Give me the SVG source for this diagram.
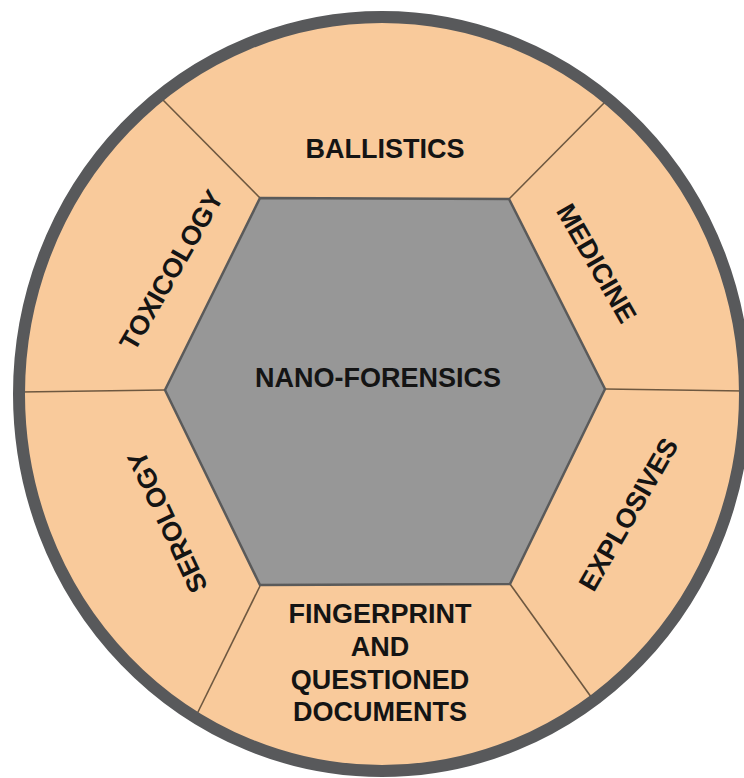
<svg xmlns="http://www.w3.org/2000/svg" width="744" height="778" viewBox="0 0 744 778">
<style>
.lbl{font-family:"Liberation Sans",Arial,sans-serif;font-weight:bold;font-size:27px;fill:#141414;text-anchor:middle}
.div{stroke:#6e5840;stroke-width:1.6;fill:none}
</style>
<rect width="744" height="778" fill="#ffffff"/>
<g id="ring">
<ellipse cx="382" cy="394" rx="363" ry="377" fill="#f9ca9b"/>
</g>
<g id="connectors">
<line class="div" x1="260" y1="198" x2="162" y2="99"/>
<line class="div" x1="509" y1="199" x2="608" y2="99"/>
<line class="div" x1="605" y1="389" x2="745" y2="391"/>
<line class="div" x1="165" y1="390" x2="20" y2="392"/>
<line class="div" x1="510" y1="584" x2="594" y2="701"/>
<line class="div" x1="260" y1="586" x2="196" y2="716"/>
</g>
<g id="center">
<polygon points="260,198 509,199 605,389 510,584 260,585 165,390" fill="#979797" stroke="#5a5a5a" stroke-width="2.5" stroke-linejoin="miter"/>
<text class="lbl" x="378" y="387">NANO-FORENSICS</text>
</g>
<g id="ballistics"><text class="lbl" x="385" y="158">BALLISTICS</text></g>
<g id="medicine"><text class="lbl" transform="translate(597,263) rotate(60)" x="0" y="9.7">MEDICINE</text></g>
<g id="explosives"><text class="lbl" transform="translate(628,514) rotate(-60)" x="0" y="9.7">EXPLOSIVES</text></g>
<g id="fingerprint">
<text class="lbl" x="380" y="623">FINGERPRINT</text>
<text class="lbl" x="380" y="656">AND</text>
<text class="lbl" x="380" y="689">QUESTIONED</text>
<text class="lbl" x="380" y="721">DOCUMENTS</text>
</g>
<g id="serology"><text class="lbl" transform="translate(167,522) rotate(-115)" x="0" y="9.7">SEROLOGY</text></g>
<g id="toxicology"><text class="lbl" transform="translate(171,270) rotate(-60)" x="0" y="9.7">TOXICOLOGY</text></g>
<g id="border">
<ellipse cx="382" cy="394" rx="363" ry="377" fill="none" stroke="#58595b" stroke-width="12"/>
</g>
</svg>
